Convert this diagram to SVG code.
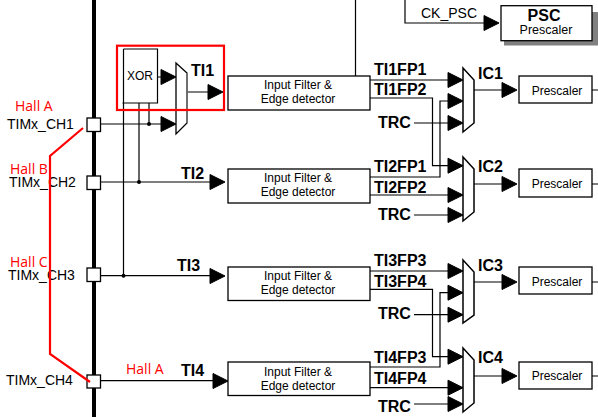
<svg xmlns="http://www.w3.org/2000/svg" width="598" height="417" viewBox="0 0 598 417">
<style>
text{font-family:"Liberation Sans",Arial,sans-serif;fill:#000}
.b{font-weight:bold;font-size:16px}
.p{font-size:14px}
.s{font-size:12px}
.r{font-size:14px;fill:#f00;font-family:"Open Sans","Liberation Sans",sans-serif}
.w{fill:none;stroke:#000;stroke-width:1.2}
.box{fill:#fff;stroke:#000;stroke-width:1.3}
.red{fill:none;stroke:#f00;stroke-width:2.2}
.m{fill:#fff;stroke:#000;stroke-width:1.5}
</style>
<defs>
<path id="a" d="M-15,-7.5L0,0L-15,7.5Z" fill="#000" stroke="#000" stroke-width="1"/>
<circle id="d" r="2" fill="#000"/>
</defs>
<rect id="bus" x="92" y="0" width="4" height="417" fill="#000"/>
<g id="connectors">
<path class="w" d="M101,124H161M101,182H211M101,275.7H210M101,380.7H214"/>
<path class="w" d="M123.5,49V275.7M139,103V182M149,103V124M157,77H161M187,92H209"/>
<path class="w" d="M355.5,0V76M405,0V23H485"/>
<path class="w" d="M370,80H449M370,98H432.5V165.7H449M370,177H440V101H449M414,123H449M370,195H449M414,215H449"/>
<path class="w" d="M370,271H449M370,289.3H432.5V356.7H449M370,367H440V292.7H449M414,314.7H449M370,387.7H449M414,404H449"/>
<path class="w" d="M474,90H503M474,184H503M474,282H503M474,376H503M592,24H598M592,90H598M592,184H598M592,282H598M592,376H598"/>
<use href="#a" x="176" y="124"/><use href="#a" x="176" y="77"/><use href="#a" x="223" y="92"/>
<use href="#a" x="225" y="182"/><use href="#a" x="225" y="276"/><use href="#a" x="228" y="381"/>
<use href="#a" x="499" y="23"/>
<use href="#a" x="463" y="80"/><use href="#a" x="463" y="101"/><use href="#a" x="463" y="123"/>
<use href="#a" x="463" y="165.7"/><use href="#a" x="463" y="195"/><use href="#a" x="463" y="215"/>
<use href="#a" x="463" y="271"/><use href="#a" x="463" y="292.7"/><use href="#a" x="463" y="314.7"/>
<use href="#a" x="463" y="356.7"/><use href="#a" x="463" y="387.7"/><use href="#a" x="463" y="404"/>
<use href="#a" x="517" y="90"/><use href="#a" x="517" y="184"/><use href="#a" x="517" y="282"/><use href="#a" x="517" y="376"/>
<use href="#d" x="149" y="124"/><use href="#d" x="139" y="182"/><use href="#d" x="123.5" y="275.7"/>
</g>
<g id="xor"><path class="w" d="M122.5,103H157.5V49H123.5"/><text class="s" x="127" y="80">XOR</text></g>
<g id="mux-ti1"><path d="M176,63L187,73V123L176,134Z" fill="#fff" stroke="#000" stroke-width="1.3"/><path d="M187,73V123" stroke="#777" stroke-width="1.5"/></g>
<g id="ports">
<rect class="box" x="87" y="118" width="13.5" height="13.5"/>
<rect class="box" x="87" y="176" width="13.5" height="13.5"/>
<rect class="box" x="87" y="268" width="13.5" height="13.5"/>
<rect class="box" x="87" y="375" width="13.5" height="13"/>
</g>
<g id="ch-labels">
<text class="p" x="7" y="129">TIMx_CH1</text>
<text class="p" x="9" y="187">TIMx_CH2</text>
<text class="p" x="8" y="280">TIMx_CH3</text>
<text class="p" x="6" y="385">TIMx_CH4</text>
</g>
<g id="filter1"><rect class="box" x="228" y="76" width="142" height="34"/><text class="s" x="298" y="89" text-anchor="middle">Input Filter &amp;</text><text class="s" x="298" y="103" text-anchor="middle">Edge detector</text></g>
<g id="filter2"><rect class="box" x="228" y="169" width="142" height="34"/><text class="s" x="298" y="182" text-anchor="middle">Input Filter &amp;</text><text class="s" x="298" y="196" text-anchor="middle">Edge detector</text></g>
<g id="filter3"><rect class="box" x="228" y="267" width="142" height="33.5"/><text class="s" x="298" y="280" text-anchor="middle">Input Filter &amp;</text><text class="s" x="298" y="294" text-anchor="middle">Edge detector</text></g>
<g id="filter4"><rect class="box" x="228" y="362" width="142" height="33.5"/><text class="s" x="298" y="376" text-anchor="middle">Input Filter &amp;</text><text class="s" x="298" y="390" text-anchor="middle">Edge detector</text></g>
<g id="psc">
<rect x="504" y="12" width="94" height="33.5" fill="#808080"/>
<rect class="box" x="501" y="5.7" width="91" height="35"/>
<text x="544" y="21" text-anchor="middle" font-weight="bold" font-size="16">PSC</text>
<text x="546" y="34" text-anchor="middle" font-size="12.5">Prescaler</text>
</g>
<text class="p" x="421" y="18">CK_PSC</text>
<g id="mux1"><path class="m" d="M463,68L474,80V123L463,132Z"/></g>
<g id="mux2"><path class="m" d="M463,157L474,169V212L463,221Z"/></g>
<g id="mux3"><path class="m" d="M463,260L474,272V315L463,323Z"/></g>
<g id="mux4"><path class="m" d="M463,348L474,360V403L463,412Z"/></g>
<g id="pre1"><rect class="box" x="519" y="76" width="73" height="27"/><text class="s" x="557" y="95" text-anchor="middle">Prescaler</text></g>
<g id="pre2"><rect class="box" x="519" y="169" width="73" height="28"/><text class="s" x="557" y="188" text-anchor="middle">Prescaler</text></g>
<g id="pre3"><rect class="box" x="519" y="267" width="73" height="27"/><text class="s" x="557" y="286" text-anchor="middle">Prescaler</text></g>
<g id="pre4"><rect class="box" x="519" y="362" width="73" height="27"/><text class="s" x="557" y="380" text-anchor="middle">Prescaler</text></g>
<g id="labels" class="b">
<text class="b" x="191" y="76">TI1</text><text class="b" x="181" y="179">TI2</text><text class="b" x="177" y="271">TI3</text><text class="b" x="181" y="376">TI4</text>
<text class="b" x="374" y="75">TI1FP1</text><text class="b" x="374" y="95">TI1FP2</text><text class="b" x="378" y="128">TRC</text>
<text class="b" x="374" y="172">TI2FP1</text><text class="b" x="374" y="193">TI2FP2</text><text class="b" x="378" y="220">TRC</text>
<text class="b" x="374" y="266">TI3FP3</text><text class="b" x="374" y="287">TI3FP4</text><text class="b" x="378" y="319">TRC</text>
<text class="b" x="374" y="363">TI4FP3</text><text class="b" x="374" y="384">TI4FP4</text><text class="b" x="378" y="412">TRC</text>
<text class="b" x="478" y="79">IC1</text><text class="b" x="478" y="172">IC2</text><text class="b" x="478" y="271">IC3</text><text class="b" x="478" y="363">IC4</text>
</g>
<g id="hall">
<rect x="117" y="45.7" width="107" height="64.3" class="red"/>
<path class="red" d="M83,128L50,156V354L90,382"/>
<text class="r" x="15" y="111">Hall A</text><text class="r" x="10" y="174">Hall B</text><text class="r" x="10" y="267">Hall C</text><text class="r" x="126" y="374">Hall A</text>
</g>
</svg>
